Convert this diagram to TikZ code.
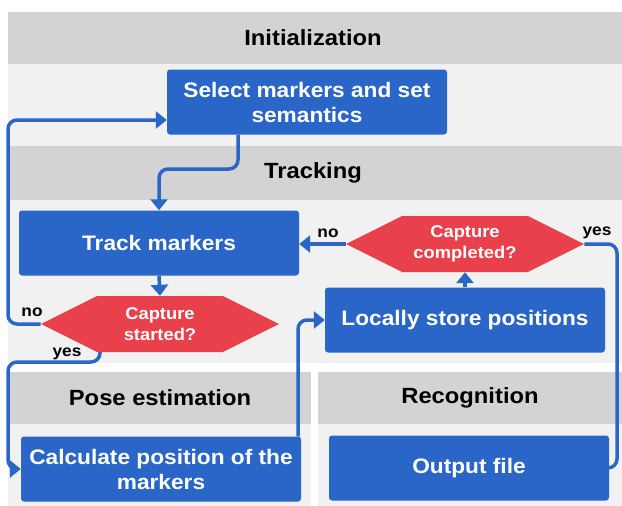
\documentclass[tikz,border=0pt]{standalone}
\usepackage{fontspec}
\setmainfont{Liberation Sans}[FakeStretch=1.08]
\usetikzlibrary{arrows.meta,shapes.symbols}
\definecolor{boxblue}{RGB}{42,102,200}
\definecolor{hexred}{RGB}{232,65,75}
\definecolor{hdrgray}{RGB}{211,211,211}
\definecolor{pnlgray}{RGB}{241,241,241}
\begin{document}
\begin{tikzpicture}[x=1pt,y=-1pt,
 hdr/.style={fill=hdrgray, draw=none},
 pnl/.style={fill=pnlgray, draw=none},
 hdrtext/.style={font=\fontsize{22}{26}\selectfont\bfseries, text=black},
 box/.style={fill=boxblue, rounded corners=3pt, text=white, font=\fontsize{21}{25}\selectfont\bfseries, align=center, minimum width=280pt, minimum height=65pt, inner sep=0pt},
 hex/.style={shape=signal, signal to=west and east, signal pointer angle=53, fill=hexred, text=white, font=\fontsize{17}{21}\selectfont\bfseries, align=center, minimum width=238pt, minimum height=56pt, inner sep=0pt},
 conn/.style={draw=boxblue, line width=3.5pt, rounded corners=9pt, -{Triangle[length=11pt,width=17pt]}},
 lbl/.style={font=\fontsize{16}{18}\selectfont\bfseries, text=black, inner sep=0pt}
]
\useasboundingbox (0,0) rectangle (622,506);
\fill[white] (0,0) rectangle (622,506);
% bands
\fill[hdr] (8,12) rectangle (622,64);
\fill[pnl] (8,64) rectangle (622,146);
\fill[hdr] (8,146) rectangle (622,200);
\fill[pnl] (8,200) rectangle (622,363);
\fill[hdr] (8,372) rectangle (311,424);
\fill[pnl] (8,424) rectangle (311,506);
\fill[hdr] (318,372) rectangle (622,424);
\fill[pnl] (318,424) rectangle (622,506);
% header texts
\node[hdrtext] (hinit) at (313,38) {Initialization};
\node[hdrtext] (htrack) at (313,173) {Tracking};
\node[hdrtext] (hpose) at (160,398) {Pose estimation};
\node[hdrtext] (hrec) at (470,398) {Recognition};
% nodes
\node[box] (sel) at (307,102) {Select markers and set\\semantics};
\node[box] (track) at (159,243) {Track markers};
\node[hex] (cs) at (160,324) {Capture\\started?};
\node[hex] (cc) at (465,244) {Capture\\completed?};
\node[box] (ls) at (465,320) {Locally store positions};
\node[box] (calc) at (161,469) {Calculate position of the\\markers};
\node[box] (out) at (469,468) {Output file};
% labels
\node[lbl] (no1) at (32,312) {no};
\node[lbl] (yes1) at (67,354) {yes};
\node[lbl] (no2) at (328,233) {no};
\node[lbl] (yes2) at (597,233) {yes};
% helper coordinates
\coordinate (c1) at (238,169);
\coordinate (c3) at (8,120);
\coordinate (c4a) at (100,362);
\coordinate (c4b) at (8,362);
\coordinate (c5) at (298,0);
\coordinate (c8) at (617,0);
% connectors
\draw[conn] (sel.south -| c1) -- (c1) -| (track.north);
\draw[conn] (track.south) -- (cs.north);
\draw[conn] (cs.west) -| (c3) -- (c3 -| sel.west);
\draw[conn] (cs.south -| c4a) -- (c4a) -- (c4b) |- (calc.west);
\draw[conn] (calc.north -| c5) |- (ls.west);
\draw[conn] (ls.north) -- (ls.north |- cc.south);
\draw[conn] (cc.west) -- (cc.west -| track.east);
\draw[conn] (cc.east) -- (cc.east -| c8) |- (out.east);
\end{tikzpicture}
\end{document}
